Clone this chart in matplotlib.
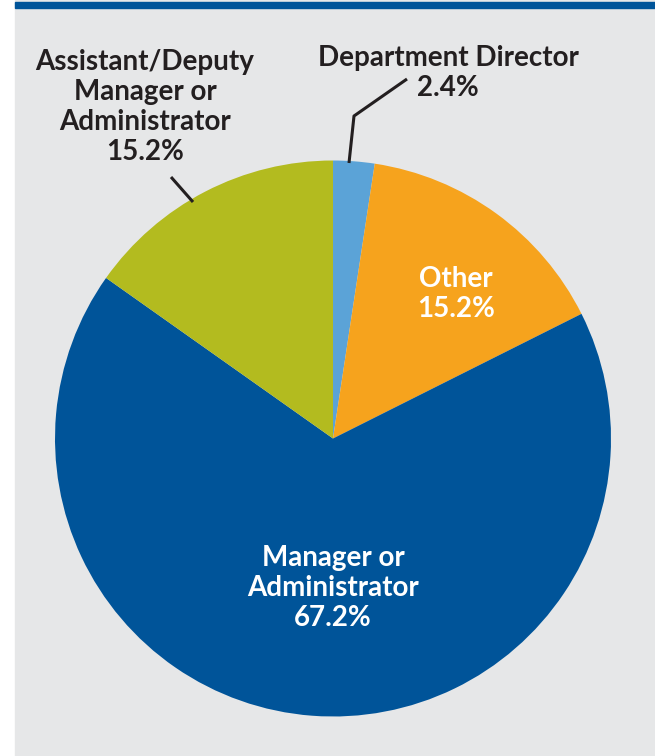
import matplotlib
matplotlib.use("Agg")
import matplotlib.pyplot as plt
from matplotlib.patches import Rectangle

# slices, clockwise from the top
labels = ["Department Director", "Other", "Manager or Administrator",
          "Assistant/Deputy Manager or Administrator"]
shares = [2.4, 15.2, 67.2, 15.2]
colors = ["#5ba3d7", "#f6a31d", "#005499", "#b3bb1f"]

W, H = 655, 756
BG = "#e6e7e8"
DARK = "#231f20"
FONT = ["Lato", "DejaVu Sans"]

fig = plt.figure(figsize=(W / 100, H / 100), dpi=100, facecolor="white")
ax = fig.add_axes([0, 0, 1, 1])


def Y(py):
    # picture rows counted from top
    return H - py


cx, cy, r = 333, Y(438.5), 278
ax.pie(shares, colors=colors, startangle=90, counterclock=False,
       center=(cx, cy), radius=r, frame=True,
       wedgeprops=dict(linewidth=0, edgecolor="none"))
ax.set_xlim(0, W)
ax.set_ylim(0, H)
ax.set_aspect("auto")
ax.axis("off")

ax.add_patch(Rectangle((15, 0), W - 15, H, color=BG, zorder=0))
ax.add_patch(Rectangle((15, Y(8)), W - 15, 6, color="#005499", zorder=1))

kw = dict(fontsize=20, fontweight="bold", family=FONT, ha="center",
          va="center", linespacing=1.2)

# outside labels
ax.text(145, Y(107), "Assistant/Deputy\nManager or\nAdministrator\n%.1f%%" % shares[3],
        color=DARK, **kw)
ax.text(448, Y(73), "Department Director\n%.1f%%" % shares[0], color=DARK, **kw)

# leader lines
ax.plot([407, 354, 349], [Y(79), Y(116), Y(163)], color=DARK, lw=2.2,
        solid_capstyle="butt")
ax.plot([171, 193], [Y(177), Y(202)], color=DARK, lw=2.2,
        solid_capstyle="butt")

# inside labels
ax.text(456, Y(294), "Other\n%.1f%%" % shares[1], color="white", **kw)
ax.text(333, Y(588), "Manager or\nAdministrator\n%.1f%%" % shares[2],
        color="white", **kw)

fig.savefig("out.png", dpi=100, facecolor="white")
